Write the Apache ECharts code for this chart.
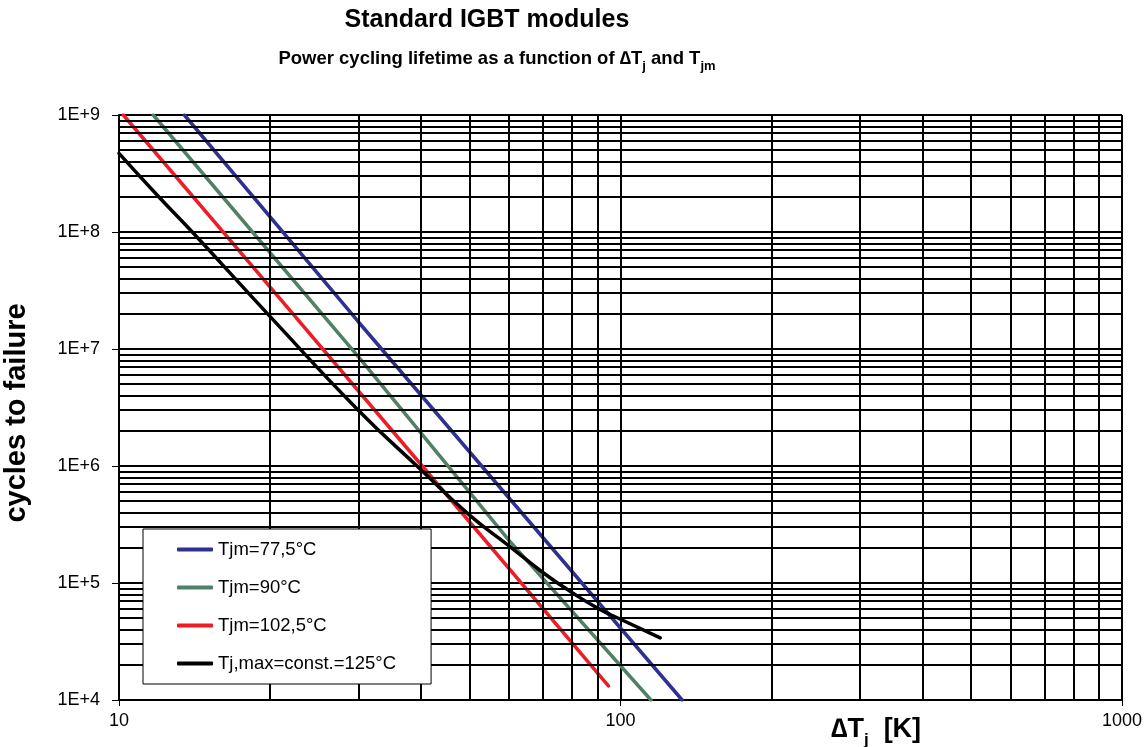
<!DOCTYPE html>
<html>
<head>
<meta charset="utf-8">
<title>Standard IGBT modules</title>
<script src="https://cdn.jsdelivr.net/npm/echarts/dist/echarts.min.js"></script>
<style>
    html, body { margin: 0; padding: 0; background: #fff; }
    #chart { width: 1146px; height: 747px; }
</style>
</head>
<body>
<div id="chart"></div>
<script>
'use strict';

// legend names
var seriesNames = ['Tjm=77,5°C', 'Tjm=90°C', 'Tjm=102,5°C', 'Tj,max=const.=125°C'];

// [dTj in K, cycles to failure]
var tjm775 = [[13.5, 1e9], [30, 1.71e7], [60, 5.3e5], [132.7, 1e4]];
var tjm90 = [[11.7, 1e9], [30, 8.6e6], [60, 2.3e5], [115, 1e4]];
var tjm1025 = [[10.2, 1e9], [20, 3.4e7], [40, 1.03e6], [94.6, 1.32e4]];
var tjMax125 = [[10, 4.7e8], [12, 2.0e8], [14, 1.0e8], [20, 1.9e7], [30, 3.0e6], [40, 9.3e5],
    [50, 3.8e5], [60, 2.07e5], [70, 1.23e5], [80, 8.3e4], [90, 6.1e4], [100, 4.9e4], [120, 3.4e4]];

var seriesColors = ['#2E3192', '#4F8166', '#EE1C25', '#000000'];

// axis range
var xMin = 10, xMax = 1000;
var yMin = 1e4, yMax = 1e9;

// minor grid lines 2..9 of every decade
var minorX = [];
for (var dx = xMin; dx < xMax; dx *= 10) {
    for (var k = 2; k <= 9; k++) minorX.push(k * dx);
}
var minorY = [];
for (var dy = yMin; dy < yMax; dy *= 10) {
    for (var m = 2; m <= 9; m++) minorY.push(m * dy);
}

var gridLines = [];
minorX.forEach(function (v) { gridLines.push({ xAxis: v }); });
minorY.forEach(function (v) { gridLines.push({ yAxis: v }); });

var baseFont = "'Liberation Sans', Arial, sans-serif";

var chart = echarts.init(document.getElementById('chart'));

function curve(name, data, color, smooth) {
    return {
        name: name,
        type: 'line',
        data: data,
        smooth: smooth,
        showSymbol: false,
        symbol: 'none',
        z: 3,
        lineStyle: { color: color, width: 3.5, cap: 'round' },
        itemStyle: { color: color },
        emphasis: { disabled: true },
        animation: false
    };
}

var option = {
    animation: false,
    grid: {
        left: 119,
        right: 24,
        top: 115,
        bottom: 47,
        outerBoundsMode: 'none'
    },
    graphic: [
        {
            type: 'text',
            x: 487, y: 20,
            style: {
                text: 'Standard IGBT modules',
                fontFamily: baseFont,
                fontWeight: 'bold',
                fontSize: 25,
                fill: '#000',
                align: 'center',
                verticalAlign: 'middle'
            }
        },
        {
            type: 'text',
            x: 497, y: 60,
            style: {
                text: '{n|Power cycling lifetime as a function of \u2206T}{s|j}{n| and T}{s|jm}',
                fill: '#000',
                align: 'center',
                verticalAlign: 'middle',
                rich: {
                    n: { fontFamily: baseFont, fontWeight: 'bold', fontSize: 18.5, lineHeight: 22, verticalAlign: 'top' },
                    s: { fontFamily: baseFont, fontWeight: 'bold', fontSize: 13, lineHeight: 13, verticalAlign: 'top', padding: [11, 0, 0, 0] }
                }
            }
        },
        {
            type: 'text',
            x: 876, y: 731,
            style: {
                text: '{n|\u2206T}{s|j}{n|  [K]}',
                fill: '#000',
                align: 'center',
                verticalAlign: 'middle',
                rich: {
                    n: { fontFamily: baseFont, fontWeight: 'bold', fontSize: 27, lineHeight: 30, verticalAlign: 'top' },
                    s: { fontFamily: baseFont, fontWeight: 'bold', fontSize: 17, lineHeight: 17, verticalAlign: 'top', padding: [16, 0, 0, 0] }
                }
            }
        },
        {
            type: 'text',
            x: 17, y: 413,
            rotation: Math.PI / 2,
            style: {
                text: 'cycles to failure',
                fontFamily: baseFont,
                fontWeight: 'bold',
                fontSize: 29,
                fill: '#000',
                align: 'center',
                verticalAlign: 'middle'
            }
        }
    ],
    legend: {
        data: seriesNames,
        orient: 'vertical',
        left: 143,
        top: 529,
        z: 20,
        padding: [11, 35, 11, 34],
        itemGap: 19,
        icon: 'roundRect',
        itemWidth: 36,
        itemHeight: 4,
        backgroundColor: '#fff',
        borderColor: '#000',
        borderWidth: 1,
        selectedMode: false,
        textStyle: { fontFamily: baseFont, fontSize: 18.5, color: '#000' }
    },
    xAxis: {
        type: 'log',
        logBase: 10,
        min: xMin,
        max: xMax,
        axisLine: { show: true, lineStyle: { color: '#000', width: 2 } },
        axisTick: { show: true, length: 6, lineStyle: { color: '#000', width: 1 } },
        axisLabel: {
            margin: 12,
            fontFamily: baseFont,
            fontSize: 18,
            color: '#000',
            formatter: function (v) { return String(Math.round(v)); }
        },
        splitLine: { show: true, lineStyle: { color: '#000', width: 2 } }
    },
    yAxis: {
        type: 'log',
        logBase: 10,
        min: yMin,
        max: yMax,
        axisLine: { show: true, lineStyle: { color: '#000', width: 2 } },
        axisTick: { show: true, length: 7, lineStyle: { color: '#000', width: 1 } },
        axisLabel: {
            margin: 19,
            fontFamily: baseFont,
            fontSize: 18,
            color: '#000',
            formatter: function (v) { return '1E+' + Math.round(Math.log(v) / Math.LN10); }
        },
        splitLine: { show: true, lineStyle: { color: '#000', width: 2 } }
    },
    series: [
        {
            name: 'grid',
            type: 'line',
            data: [],
            z: 1,
            silent: true,
            markLine: {
                silent: true,
                symbol: ['none', 'none'],
                label: { show: false },
                emphasis: { disabled: true },
                animation: false,
                lineStyle: { color: '#000', width: 2, type: 'solid' },
                data: gridLines
            }
        },
        curve(seriesNames[0], tjm775, seriesColors[0], false),
        curve(seriesNames[1], tjm90, seriesColors[1], false),
        curve(seriesNames[2], tjm1025, seriesColors[2], false),
        curve(seriesNames[3], tjMax125, seriesColors[3], true)
    ]
};

chart.setOption(option);
</script>
</body>
</html>
